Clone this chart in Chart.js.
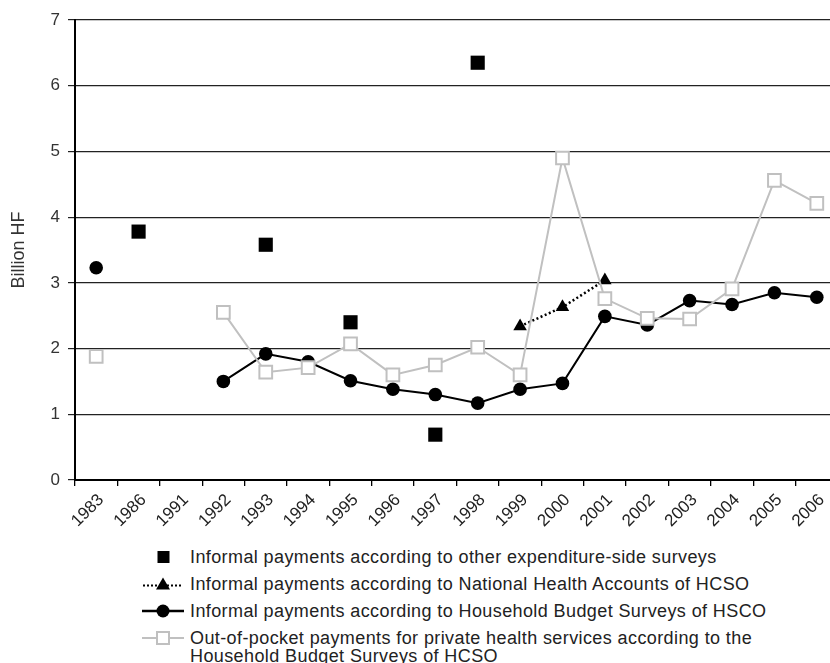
<!DOCTYPE html>
<html>
<head>
<meta charset="utf-8">
<script src="https://cdn.jsdelivr.net/npm/chart.js@4/dist/chart.umd.min.js"></script>
<style>
  html, body { margin: 0; padding: 0; background: #fff; overflow: hidden; }
  #wrap { position: relative; width: 830px; height: 663px; overflow: hidden; }
  #chartBox { position: absolute; left: 0; top: 0; width: 849px; height: 540px; }
  #legend { position: absolute; left: 142px; top: 548px; font-family: "Liberation Sans", Arial, sans-serif;
            font-size: 18px; line-height: 18px; letter-spacing: 0.4px; color: #222; white-space: nowrap; }
  .row { display: flex; align-items: flex-start; margin-bottom: 9px; }
  .row svg { flex: none; width: 42px; height: 18px; margin-right: 6px; }
</style>
</head>
<body>
<div id="wrap">
  <div id="chartBox"><canvas id="paymentsChart" width="849" height="540"></canvas></div>
  <div id="legend">
    <div class="row">
      <svg viewBox="0 0 42 18"><rect x="15.5" y="3" width="12" height="12" fill="#000"/></svg>
      <span>Informal payments according to other expenditure-side surveys</span>
    </div>
    <div class="row">
      <svg viewBox="0 0 42 18"><line x1="1" y1="10.5" x2="41" y2="10.5" stroke="#000" stroke-width="2" stroke-dasharray="2,2"/>
        <polygon points="21,2.5 28,14.5 14,14.5" fill="#000"/></svg>
      <span>Informal payments according to National Health Accounts of HCSO</span>
    </div>
    <div class="row">
      <svg viewBox="0 0 42 18"><line x1="0" y1="9" x2="42" y2="9" stroke="#000" stroke-width="2.5"/>
        <circle cx="21" cy="9" r="6.5" fill="#000"/></svg>
      <span>Informal payments according to Household Budget Surveys of HSCO</span>
    </div>
    <div class="row">
      <svg viewBox="0 0 42 18"><line x1="0" y1="9" x2="42" y2="9" stroke="#c0c0c0" stroke-width="2"/>
        <rect x="15" y="3" width="12" height="12" fill="#fff" stroke="#c0c0c0" stroke-width="2"/></svg>
      <span>Out-of-pocket payments for private health services according to the<br>Household Budget Surveys of HCSO</span>
    </div>
  </div>
</div>
<script>
const years = ['1983', '1986', '1991', '1992', '1993', '1994', '1995', '1996', '1997',
               '1998', '1999', '2000', '2001', '2002', '2003', '2004', '2005', '2006'];

// other expenditure-side surveys (isolated points)
const otherSurveys = [null, 3.78, null, null, 3.58, null, 2.40, null, 0.69,
                      6.35, null, null, null, null, null, null, null, null];

// National Health Accounts of HCSO
const nationalAccounts = [null, null, null, null, null, null, null, null, null,
                          null, 2.34, 2.63, 3.04, null, null, null, null, null];

// Household Budget Surveys, informal payments
const budgetInformal = [3.23, null, null, 1.50, 1.92, 1.80, 1.51, 1.38, 1.30,
                        1.17, 1.38, 1.47, 2.49, 2.36, 2.73, 2.67, 2.85, 2.78];

// Household Budget Surveys, out-of-pocket for private services
const budgetOutOfPocket = [1.88, null, null, 2.55, 1.64, 1.71, 2.07, 1.60, 1.75,
                           2.02, 1.60, 4.90, 2.76, 2.46, 2.45, 2.91, 4.56, 4.21];

const yTicks = [0, 1, 2, 3, 4, 5, 6, 7];

const FONT = '"Liberation Sans", Arial, sans-serif';
const GREY = '#c0c0c0';

var ctx = document.getElementById('paymentsChart').getContext('2d');

var chart = new Chart(ctx, {
  type: 'line',
  data: {
    labels: years,
    datasets: [
      {
        label: 'Out-of-pocket payments for private health services according to the Household Budget Surveys of HCSO',
        data: budgetOutOfPocket,
        borderColor: GREY,
        borderWidth: 2,
        pointStyle: 'rect',
        pointRadius: 9,
        pointBackgroundColor: '#fff',
        pointBorderColor: GREY,
        pointBorderWidth: 2,
        spanGaps: false,
        order: 0
      },
      {
        label: 'Informal payments according to Household Budget Surveys of HSCO',
        data: budgetInformal,
        borderColor: '#000',
        borderWidth: 2,
        pointStyle: 'circle',
        pointRadius: 6.8,
        pointBackgroundColor: '#000',
        pointBorderColor: '#000',
        pointBorderWidth: 0,
        spanGaps: false,
        order: 1
      },
      {
        label: 'Informal payments according to National Health Accounts of HCSO',
        data: nationalAccounts,
        borderColor: '#000',
        borderWidth: 2.5,
        borderDash: [2, 2.5],
        pointStyle: 'triangle',
        pointRadius: 7.8,
        pointBackgroundColor: '#000',
        pointBorderColor: '#000',
        pointBorderWidth: 0,
        order: 2
      },
      {
        label: 'Informal payments according to other expenditure-side surveys',
        data: otherSurveys,
        showLine: false,
        pointStyle: 'rect',
        pointRadius: 10,
        pointBackgroundColor: '#000',
        pointBorderColor: '#000',
        pointBorderWidth: 0,
        order: 3
      }
    ]
  },
  options: {
    responsive: false,
    animation: false,
    layout: { padding: { top: 20, right: 0, left: 0, bottom: 0 } },
    plugins: {
      legend: { display: false },
      tooltip: { enabled: false }
    },
    scales: {
      x: {
        offset: true,
        grid: {
          offset: true,
          drawOnChartArea: false,
          color: '#000',
          lineWidth: 1.3,
          tickLength: 6
        },
        border: { display: true, color: '#000', width: 2 },
        ticks: {
          color: '#222',
          font: { family: FONT, size: 17 },
          minRotation: 45,
          maxRotation: 45,
          autoSkip: false,
          labelOffset: 5,
          padding: 4
        },
        afterFit: function(scale) { scale.height = 60; }
      },
      y: {
        min: 0,
        max: 7,
        afterBuildTicks: function(scale) {
          scale.ticks = yTicks.map(function(v) { return { value: v }; });
        },
        grid: {
          color: '#222',
          lineWidth: 1.2,
          tickLength: 7
        },
        border: { display: true, color: '#000', width: 2 },
        ticks: {
          color: '#333',
          font: { family: FONT, size: 17 },
          padding: 8
        },
        title: {
          display: true,
          text: 'Billion HF',
          color: '#333',
          font: { family: FONT, size: 18 },
          padding: { top: 8, bottom: 0 }
        },
        afterFit: function(scale) { scale.width = 75; }
      }
    }
  }
});
</script>
</body>
</html>
